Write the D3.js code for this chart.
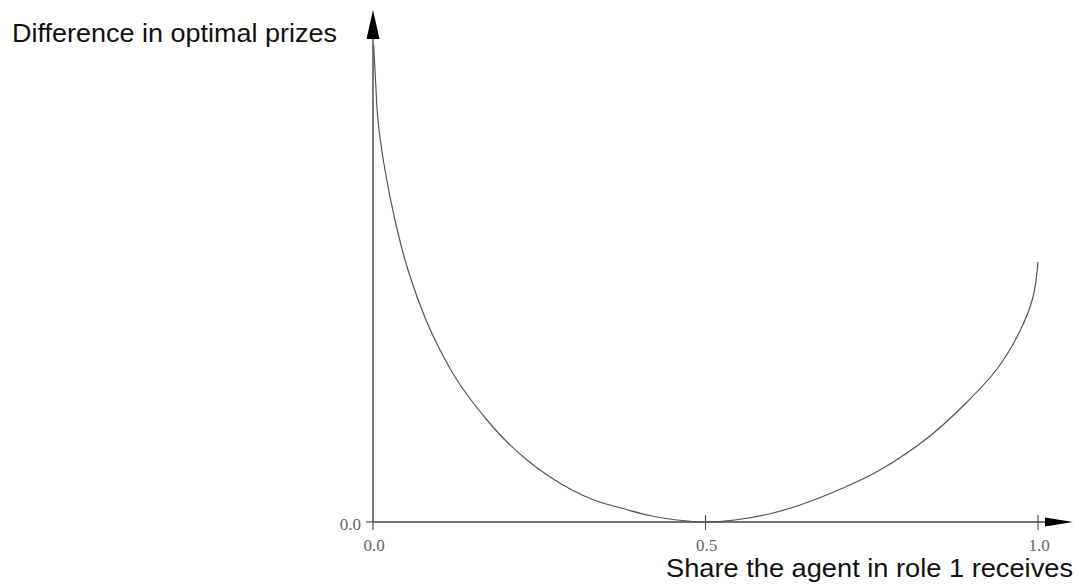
<!DOCTYPE html>
<html><head><meta charset="utf-8">
<script src="https://cdn.jsdelivr.net/npm/d3@7"></script>
<style>body{margin:0;background:#fff;}svg{display:block;}</style>
</head><body>
<svg id="chart" width="1079" height="585"></svg>
<script>
// Data (x = share, y = difference, arbitrary units)
const shares = [0.001, 0.0038, 0.0075, 0.018, 0.033, 0.0526, 0.0797, 0.1008, 0.1263, 0.1474, 0.1714, 0.1985, 0.2316, 0.2617, 0.2992, 0.3323, 0.3835, 0.4195, 0.4571, 0.5,
                0.5444, 0.5925, 0.6421, 0.7068, 0.7624, 0.8376, 0.8932, 0.9383, 0.9729, 0.9925, 1.0];
const diffs  = [4.77, 4.42, 4.02, 3.52, 3.02, 2.52, 2.02, 1.72, 1.42, 1.22, 1.02, 0.82, 0.62, 0.47, 0.32, 0.22, 0.12, 0.06, 0.02, 0.0,
                0.02, 0.075, 0.17, 0.34, 0.52, 0.86, 1.20, 1.53, 1.91, 2.25, 2.60];
const xTicks = [0.0, 0.5, 1.0];
const yTicks = [0.0];
const yLabel = "Difference in optimal prizes";
const xLabel = "Share the agent in role 1 receives";

const svg = d3.select("#chart");
const x = d3.scaleLinear().domain([0, 1]).range([373, 1038]);
const y = d3.scaleLinear().domain([0, 5]).range([522, 22]);
const axisColor = "#444";
const fmt = d3.format(".1f");

// y axis line with arrow
svg.append("line").attr("x1", x(0)).attr("x2", x(0)).attr("y1", y(0)).attr("y2", 36)
  .attr("stroke", axisColor).attr("stroke-width", 1.4);
svg.append("path").attr("d", `M${x(0)},10 L${x(0)-6.5},39 L${x(0)+6.5},39 Z`).attr("fill", "#000");

// x axis line with arrow
svg.append("line").attr("x1", x(0)).attr("x2", 1048).attr("y1", y(0)).attr("y2", y(0))
  .attr("stroke", axisColor).attr("stroke-width", 1.4);
svg.append("path").attr("d", `M1073,${y(0)} L1045,${y(0)-4.5} L1045,${y(0)+4.5} Z`).attr("fill", "#000");

// x ticks
xTicks.forEach(t => {
  svg.append("line").attr("x1", x(t)).attr("x2", x(t))
    .attr("y1", t === 0 ? y(0) : y(0) - 7).attr("y2", y(0) + 8)
    .attr("stroke", axisColor).attr("stroke-width", 1.1);
  svg.append("text").attr("x", x(t) + 1).attr("y", 551).attr("text-anchor", "middle")
    .attr("font-family", "Liberation Serif, serif").attr("font-size", 17).attr("fill", "#666")
    .text(fmt(t));
});
// y ticks
yTicks.forEach(t => {
  svg.append("line").attr("x1", x(0) - 7).attr("x2", x(0)).attr("y1", y(t)).attr("y2", y(t))
    .attr("stroke", axisColor).attr("stroke-width", 1.1);
  svg.append("text").attr("x", 361).attr("y", y(t) + 8).attr("text-anchor", "end")
    .attr("font-family", "Liberation Serif, serif").attr("font-size", 17).attr("fill", "#666")
    .text(fmt(t));
});

// curve
const pts = shares.map((s, i) => [s, diffs[i]]);
svg.append("path").datum(pts)
  .attr("d", d3.line().x(d => x(d[0])).y(d => y(d[1])).curve(d3.curveCatmullRom.alpha(0.5)))
  .attr("fill", "none").attr("stroke", "#555").attr("stroke-width", 1.2);

// labels
svg.append("text").attr("x", 12).attr("y", 42).attr("font-family", "Liberation Sans, Arial, sans-serif")
  .attr("font-size", 25).attr("fill", "#111")
  .attr("textLength", 325).attr("lengthAdjust", "spacingAndGlyphs").text(yLabel);
svg.append("text").attr("x", 666).attr("y", 577)
  .attr("font-family", "Liberation Sans, Arial, sans-serif")
  .attr("font-size", 25).attr("fill", "#111")
  .attr("textLength", 407).attr("lengthAdjust", "spacingAndGlyphs").text(xLabel);
</script>
</body></html>
